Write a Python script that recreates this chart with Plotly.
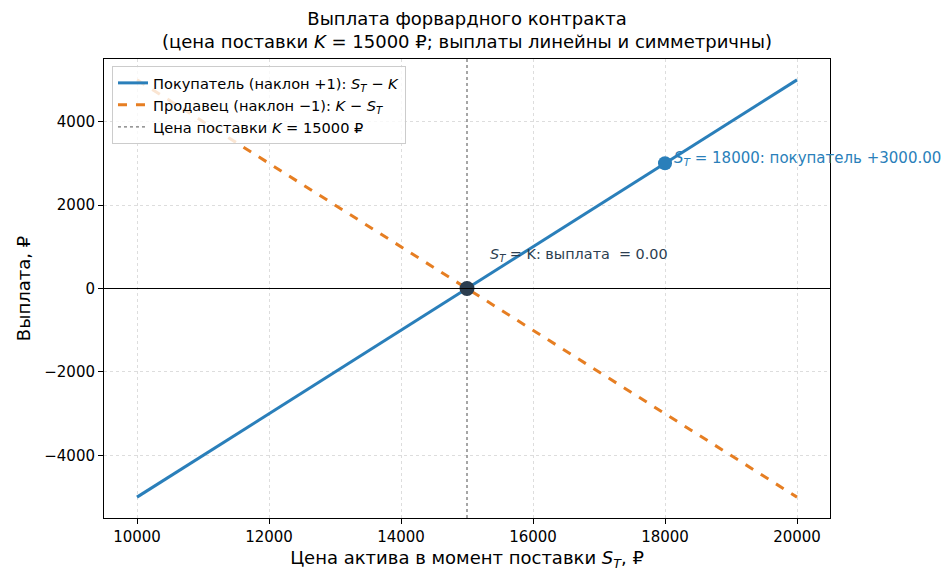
import plotly.graph_objects as go

# Data
K = 15000
spot_prices = [10000, 20000]
buyer_payoff = [-5000, 5000]
seller_payoff = [5000, -5000]
strike_line_x = [15000, 15000]
strike_line_y = [-5500, 5500]
highlight_x = [18000]
highlight_y = [3000]
breakeven_x = [15000]
breakeven_y = [0]
x_ticks = [10000, 12000, 14000, 16000, 18000, 20000]
y_ticks = [-4000, -2000, 0, 2000, 4000]

BLUE = "#2a7fba"
ORANGE = "#e67e22"
DARK = "#2c3e50"
FONT = "DejaVu Sans"

fig = go.Figure()

fig.add_trace(go.Scatter(
    x=spot_prices, y=buyer_payoff, mode="lines",
    line=dict(color=BLUE, width=3),
    name="Покупатель (наклон +1): <i>S</i><sub><i>T</i></sub> − <i>K</i>",
))
fig.add_trace(go.Scatter(
    x=spot_prices, y=seller_payoff, mode="lines",
    line=dict(color=ORANGE, width=3, dash="dash"),
    name="Продавец (наклон −1): <i>K</i> − <i>S</i><sub><i>T</i></sub>",
))
fig.add_trace(go.Scatter(
    x=strike_line_x, y=strike_line_y, mode="lines",
    line=dict(color="#777777", width=1.3, dash="dot"),
    name="Цена поставки <i>K</i> = 15000 ₽",
))
fig.add_trace(go.Scatter(
    x=highlight_x, y=highlight_y, mode="markers",
    marker=dict(color=BLUE, size=14), showlegend=False,
))
fig.add_trace(go.Scatter(
    x=breakeven_x, y=breakeven_y, mode="markers",
    marker=dict(color=DARK, size=15), showlegend=False,
))

fig.add_shape(type="line", xref="paper", yref="y", x0=0, x1=1, y0=0, y1=0,
              line=dict(color="black", width=1))

fig.add_annotation(
    x=highlight_x[0], y=highlight_y[0], xref="x", yref="y",
    text="<i>S</i><sub><i>T</i></sub> = 18000: покупатель +3000.00",
    showarrow=False, xanchor="left", yanchor="middle",
    xshift=7, yshift=5, font=dict(color=BLUE, size=15, family=FONT),
)
fig.add_annotation(
    x=breakeven_x[0], y=breakeven_y[0], xref="x", yref="y",
    text="<i>S</i><sub><i>T</i></sub> = K: выплата  = 0.00",
    showarrow=False, xanchor="left", yanchor="middle",
    xshift=21, yshift=34, font=dict(color=DARK, size=14.4, family=FONT),
)
fig.add_annotation(
    x=0.5, y=1, xref="paper", yref="paper",
    text="Выплата форвардного контракта<br>(цена поставки <i>K</i> = 15000 ₽; выплаты линейны и симметричны)",
    showarrow=False, xanchor="center", yanchor="bottom", yshift=5,
    font=dict(size=18, family=FONT, color="black"),
)

axis_common = dict(
    showline=True, linecolor="black", linewidth=1, mirror=True,
    ticks="outside", ticklen=5, tickcolor="black",
    showgrid=True, gridcolor="#dddddd", griddash="dot", gridwidth=1,
    zeroline=False, tickformat="d",
    tickfont=dict(size=15, family=FONT, color="black"),
)

fig.update_layout(
    width=951, height=586,
    margin=dict(l=104, r=121, t=59, b=68),
    paper_bgcolor="white", plot_bgcolor="white",
    font=dict(family=FONT, color="black"),
    xaxis=dict(range=[9500, 20500], tickvals=x_ticks,
               title=dict(text="Цена актива в момент поставки <i>S</i><sub><i>T</i></sub>, ₽",
                          font=dict(size=18, family=FONT), standoff=6),
               **axis_common),
    yaxis=dict(range=[-5500, 5500], tickvals=y_ticks,
               title=dict(text="Выплата, ₽", font=dict(size=18, family=FONT), standoff=8),
               **axis_common),
    legend=dict(x=0.011, y=0.985, xanchor="left", yanchor="top",
                bgcolor="rgba(255,255,255,0.8)", bordercolor="#cccccc", borderwidth=1,
                font=dict(size=14.6, family=FONT), tracegroupgap=0),
    showlegend=True,
)

fig.write_html("out.html")
